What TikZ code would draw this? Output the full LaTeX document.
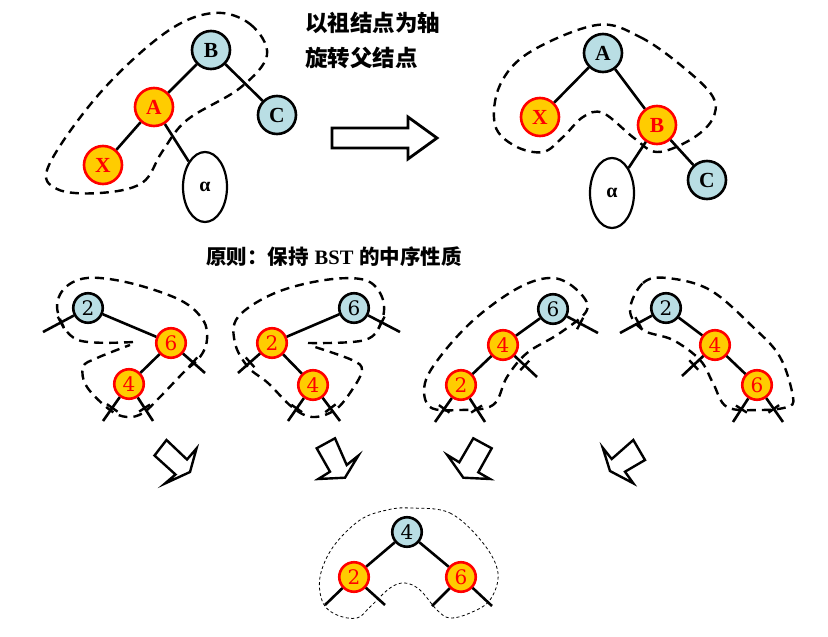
\documentclass[tikz,border=0pt]{standalone}
\usepackage{fontspec}
\setmainfont{Liberation Serif}
\newfontfamily\cjk{Noto Sans CJK SC}
\newfontfamily\digitfont{DejaVu Serif}
\usetikzlibrary{calc,decorations.markings,shapes.geometric}
\definecolor{nblue}{RGB}{185,222,228}
\definecolor{nyel}{RGB}{255,204,0}
\definecolor{nred}{RGB}{255,0,0}
\begin{document}
\begin{tikzpicture}[x=1pt,y=-1pt,
  bigB/.style={circle,draw=black,line width=2.6pt,fill=nblue,minimum size=38pt,inner sep=0pt,
    font=\bfseries\fontsize{21.5}{21.5}\selectfont,text=black},
  bigR/.style={bigB,draw=nred,fill=nyel,text=nred},
  smB/.style={circle,draw=black,line width=2.6pt,fill=nblue,minimum size=29.5pt,inner sep=0pt,
    font=\digitfont\fontsize{20}{20}\selectfont,text=black},
  smR/.style={smB,draw=nred,fill=nyel,text=nred},
  subt/.style={ellipse,draw=black,line width=2.2pt,fill=white,minimum width=44pt,minimum height=70pt,
    inner sep=0pt,font=\bfseries\fontsize{20}{20}\selectfont},
  edge/.style={line width=2.6pt,draw=black},
  cutmark/.style={postaction={decorate,decoration={markings,
    mark=at position #1 with {\draw[line width=2.4pt] (0pt,-6.5pt) -- (0pt,6.5pt);}}}},
  cutmark/.default=0.45,
  hull/.style={draw=black,line width=2.4pt,dash pattern=on 9pt off 6pt},
  thinhull/.style={draw=black,line width=0.8pt,dash pattern=on 3pt off 2.5pt},
  harrow/.style={draw=black,line width=2.8pt,fill=white,miter limit=10},
  sarrow/.style={draw=black,line width=2.4pt,fill=white,line join=miter,miter limit=10},
  title/.style={anchor=west,inner sep=0pt,font=\cjk\bfseries\fontsize{22.5}{22.5}\selectfont},
  digit/.style={text=#1,line width=0.5pt,draw=none}
]
\useasboundingbox (0,0) rectangle (828,637);

% ---------- top-left tree ----------
\draw[hull] plot[smooth cycle,tension=0.6] coordinates {(213,13) (250,24) (267,55) (240,88) (187,120) (162,152) (142,183) (100,193) (57,189) (49,165) (100,93) (165,33)};
\node[bigB] (B1) at (211,50) {B};
\node[bigR] (A1) at (154,107) {A};
\node[bigR] (X1) at (103,165) {X};
\node[bigB] (C1) at (277,115) {C};
\node[subt] (al1) at (205,187) {α};
\draw[edge] (B1) -- (A1);
\draw[edge] (B1) -- (C1);
\draw[edge] (A1) -- (X1);
\draw[edge] (A1) -- (al1);

% title
\node[title] (t1) at (305,23) {以祖结点为轴};
\node[title] (t2) at (305,58) {旋转父结点};

% big arrow
\draw[harrow] (332,128) -- (408,128) -- (408,117) -- (437,138) -- (408,159) -- (408,148) -- (332,148) -- cycle;

% ---------- top-right tree ----------
\draw[hull] plot[smooth cycle,tension=0.6] coordinates {(597,25) (640,37) (683,67) (713,97) (712,120) (690,140) (657,152) (634,138) (603,113) (583,117) (563,137) (543,152) (515,146) (495,125) (500,85) (530,52)};
\node[bigB] (A2) at (603,53) {A};
\node[bigR] (X2) at (540,117) {X};
\node[bigR] (B2) at (657,125) {B};
\node[bigB] (C2) at (707,180) {C};
\node[subt] (al2) at (612,193) {α};
\draw[edge] (A2) -- (X2);
\draw[edge] (A2) -- (B2);
\draw[edge] (B2) -- (al2);
\draw[edge] (B2) -- (C2);

% principle text
\node[anchor=west,inner sep=0pt,font=\bfseries\fontsize{20.5}{20.5}\selectfont] (pr) at (206,257) {\cjk 原则：保持\hspace{6pt}\rmfamily BST\hspace{6pt}\cjk 的中序性质};

% ---------- middle tree 1 ----------
\draw[hull] plot[smooth,tension=0.6] coordinates {(133,342) (78,340) (58,313) (63,290) (87,278) (130,283) (180,300) (203,320) (207,340) (200,357) (183,373) (160,397) (143,413) (127,417) (110,410) (87,387) (83,367) (97,358) (130,345)};
\node[smB] (m1a) at (88,308) {2};
\node[smR] (m1b) at (171,343) {6};
\node[smR] (m1c) at (129,384) {4};
\coordinate (m1l) at (43,332);
\coordinate (m1r) at (205,373);
\coordinate (m1cl) at (103,421);
\coordinate (m1cr) at (153,421);
\draw[edge] (m1a) -- (m1b);
\draw[edge] (m1b) -- (m1c);
\draw[edge,cutmark=0.42] (m1a) -- (m1l);
\draw[edge,cutmark=0.45] (m1b) -- (m1r);
\draw[edge,cutmark=0.45] (m1c) -- (m1cl);
\draw[edge,cutmark=0.45] (m1c) -- (m1cr);

% ---------- middle tree 2 ----------
\draw[hull] plot[smooth,tension=0.6] coordinates {(308,343) (365,340) (382,320) (382,297) (365,280) (325,280) (275,293) (238,317) (235,343) (248,367) (268,383) (292,407) (312,417) (335,410) (352,390) (362,370) (352,360) (315,347)};
\node[smB] (m2a) at (354,308) {6};
\node[smR] (m2b) at (272,343) {2};
\node[smR] (m2c) at (313,385) {4};
\coordinate (m2r) at (400,332);
\coordinate (m2l) at (238,373);
\coordinate (m2cl) at (288,421);
\coordinate (m2cr) at (340,421);
\draw[edge] (m2a) -- (m2b);
\draw[edge] (m2b) -- (m2c);
\draw[edge,cutmark=0.42] (m2a) -- (m2r);
\draw[edge,cutmark=0.45] (m2b) -- (m2l);
\draw[edge,cutmark=0.45] (m2c) -- (m2cl);
\draw[edge,cutmark=0.45] (m2c) -- (m2cr);

% ---------- middle tree 3 ----------
\draw[hull] plot[smooth cycle,tension=0.6] coordinates {(587,310) (577,290) (553,278) (520,287) (477,317) (443,353) (425,383) (430,407) (460,410) (493,405) (507,377) (527,353) (560,333)};
\node[smB] (m3a) at (553,309) {6};
\node[smR] (m3b) at (503,345) {4};
\node[smR] (m3c) at (461,385) {2};
\coordinate (m3r) at (598,333);
\coordinate (m3br) at (537,377);
\coordinate (m3cl) at (435,422);
\coordinate (m3cr) at (485,422);
\draw[edge] (m3a) -- (m3b);
\draw[edge] (m3b) -- (m3c);
\draw[edge,cutmark=0.42] (m3a) -- (m3r);
\draw[edge,cutmark=0.45] (m3b) -- (m3br);
\draw[edge,cutmark=0.45] (m3c) -- (m3cl);
\draw[edge,cutmark=0.45] (m3c) -- (m3cr);

% ---------- middle tree 4 ----------
\draw[hull] plot[smooth cycle,tension=0.6] coordinates {(630,310) (643,283) (667,278) (710,290) (753,327) (780,357) (793,397) (787,407) (760,410) (727,407) (713,383) (700,360) (673,340) (643,330)};
\node[smB] (m4a) at (666,308) {2};
\node[smR] (m4b) at (715,345) {4};
\node[smR] (m4c) at (757,385) {6};
\coordinate (m4l) at (620,333);
\coordinate (m4bl) at (682,376);
\coordinate (m4cl) at (733,422);
\coordinate (m4cr) at (783,422);
\draw[edge] (m4a) -- (m4b);
\draw[edge] (m4b) -- (m4c);
\draw[edge,cutmark=0.42] (m4a) -- (m4l);
\draw[edge,cutmark=0.45] (m4b) -- (m4bl);
\draw[edge,cutmark=0.45] (m4c) -- (m4cl);
\draw[edge,cutmark=0.45] (m4c) -- (m4cr);

% ---------- small arrows ----------
\draw[sarrow] (154.5,455.5) -- (166.5,440) -- (187,459.5) -- (196.5,448.5) -- (190,472) -- (165,483.5) -- (175.5,474.5) -- cycle;
\draw[sarrow] (316.7,448.3) -- (335,438.3) -- (346.7,465) -- (358.3,455.7) -- (345,477.7) -- (318.3,479) -- (330,471.7) -- cycle;
\draw[sarrow] (473.3,438.3) -- (491.7,448.3) -- (478.3,472.3) -- (490,479) -- (463.3,477.7) -- (447.3,455) -- (459.3,462.3) -- cycle;
\draw[sarrow] (633.3,440) -- (645,460) -- (625,471.7) -- (633.3,483.3) -- (610,471) -- (602.7,447.7) -- (611.7,459) -- cycle;

% ---------- bottom tree ----------
\draw[thinhull] plot[smooth cycle,tension=0.6] coordinates {(410,508) (450,513) (483,543) (498,573) (490,600) (470,613) (450,618) (437,610) (420,590) (405,583) (390,588) (370,607) (357,618) (337,615) (323,603) (320,577) (333,547) (360,520) (387,510)};
\node[smB] (b4) at (407,532) {4};
\node[smR] (b2) at (354,577) {2};
\node[smR] (b6) at (461,577) {6};
\coordinate (b2l) at (325,605);
\coordinate (b2r) at (385,605);
\coordinate (b6l) at (432,606);
\coordinate (b6r) at (492,606);
\draw[edge] (b4) -- (b2);
\draw[edge] (b4) -- (b6);
\draw[edge] (b2) -- (b2l);
\draw[edge] (b2) -- (b2r);
\draw[edge] (b6) -- (b6l);
\draw[edge] (b6) -- (b6r);
\end{tikzpicture}
\end{document}
